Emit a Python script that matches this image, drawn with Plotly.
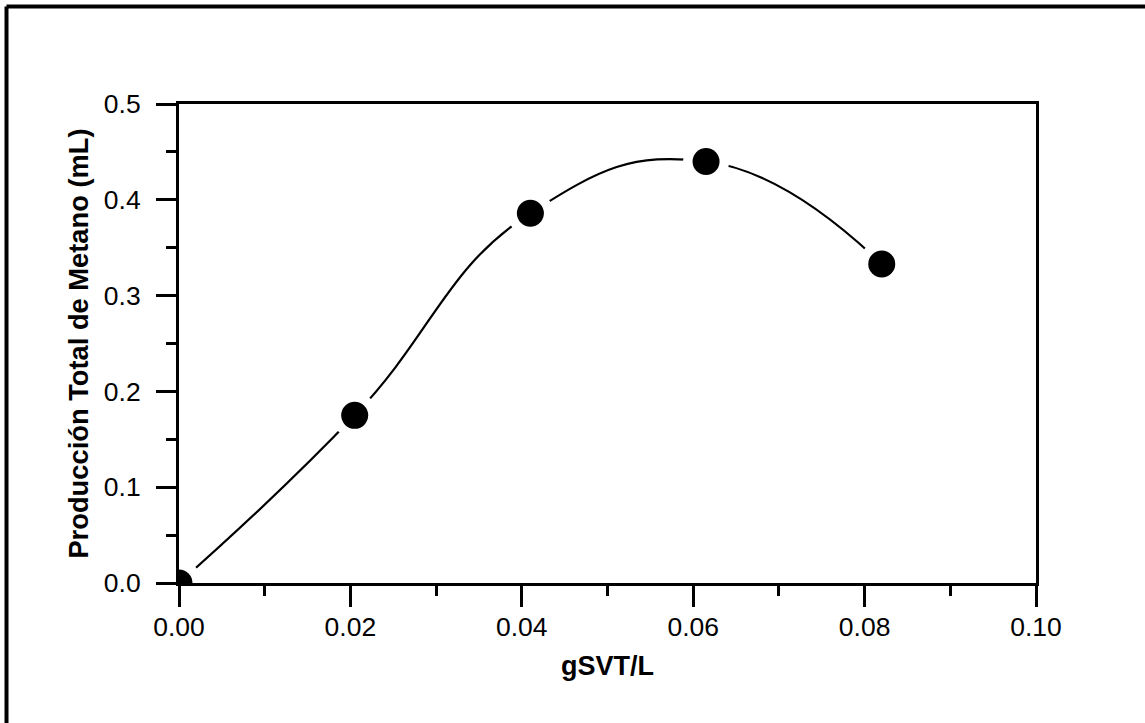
import plotly.graph_objects as go

# Data
x_vals = [0.0, 0.0205, 0.0410, 0.0615, 0.0820]
y_vals = [0.0, 0.175, 0.386, 0.440, 0.333]

x_title = "gSVT/L"
y_title = "Producción Total de Metano (mL)"

FONT = "Liberation Sans, Arial, sans-serif"

fig = go.Figure()

# smooth curve
fig.add_trace(go.Scatter(
    x=x_vals, y=y_vals, mode="lines",
    line=dict(color="black", width=2.2, shape="spline", smoothing=1.3),
    hoverinfo="skip", showlegend=False,
))
# white halo to create gaps around markers
fig.add_trace(go.Scatter(
    x=x_vals, y=y_vals, mode="markers",
    marker=dict(color="white", size=46, line=dict(width=0)),
    hoverinfo="skip", showlegend=False,
))
# black markers
fig.add_trace(go.Scatter(
    x=x_vals, y=y_vals, mode="markers",
    marker=dict(color="black", size=27, line=dict(width=0)),
    showlegend=False,
))

W, H = 1145, 723
L, R, T, B = 179, 1036, 104, 583
pw, ph = R - L, B - T

def px(x):
    return (x - L) / pw

def py(y):
    return (B - y) / ph

fig.update_layout(
    width=W, height=H,
    margin=dict(l=L, r=W - R, t=T, b=H - B, pad=0),
    paper_bgcolor="white", plot_bgcolor="white",
    font=dict(family=FONT, color="black", size=26),
    xaxis=dict(
        range=[0, 0.1], dtick=0.02, tick0=0, tickformat=".2f",
        showgrid=False, zeroline=False,
        showline=True, linewidth=3, linecolor="black", mirror=True,
        ticks="outside", ticklen=21, tickwidth=3, tickcolor="black",
        ticklabelstandoff=-3,
        minor=dict(dtick=0.01, tick0=0, ticks="outside", ticklen=10, tickwidth=3, tickcolor="black", showgrid=False),
        tickfont=dict(size=26.5),
        title=dict(text="<b>" + x_title + "</b>", font=dict(size=27), standoff=16),
    ),
    yaxis=dict(
        range=[0, 0.5], dtick=0.1, tick0=0, tickformat=".1f",
        showgrid=False, zeroline=False,
        showline=True, linewidth=3, linecolor="black", mirror=True,
        ticks="outside", ticklen=20, tickwidth=3, tickcolor="black",
        ticklabelstandoff=10,
        minor=dict(dtick=0.05, tick0=0, ticks="outside", ticklen=10, tickwidth=3, tickcolor="black", showgrid=False),
        tickfont=dict(size=26.5),
        title=dict(text="<b>" + y_title + "</b>", font=dict(size=27.3), standoff=8),
    ),
    shapes=[
        dict(type="line", xref="paper", yref="paper",
             x0=px(6.5), x1=px(1160), y0=py(6.5), y1=py(6.5),
             line=dict(color="black", width=4)),
        dict(type="line", xref="paper", yref="paper",
             x0=px(6.5), x1=px(6.5), y0=py(6.5), y1=py(740),
             line=dict(color="black", width=4)),
    ],
)

fig.write_html(
    "out.html",
    config={"displayModeBar": False},
    post_script="document.body.style.margin='0';document.body.style.overflow='hidden';",
)
